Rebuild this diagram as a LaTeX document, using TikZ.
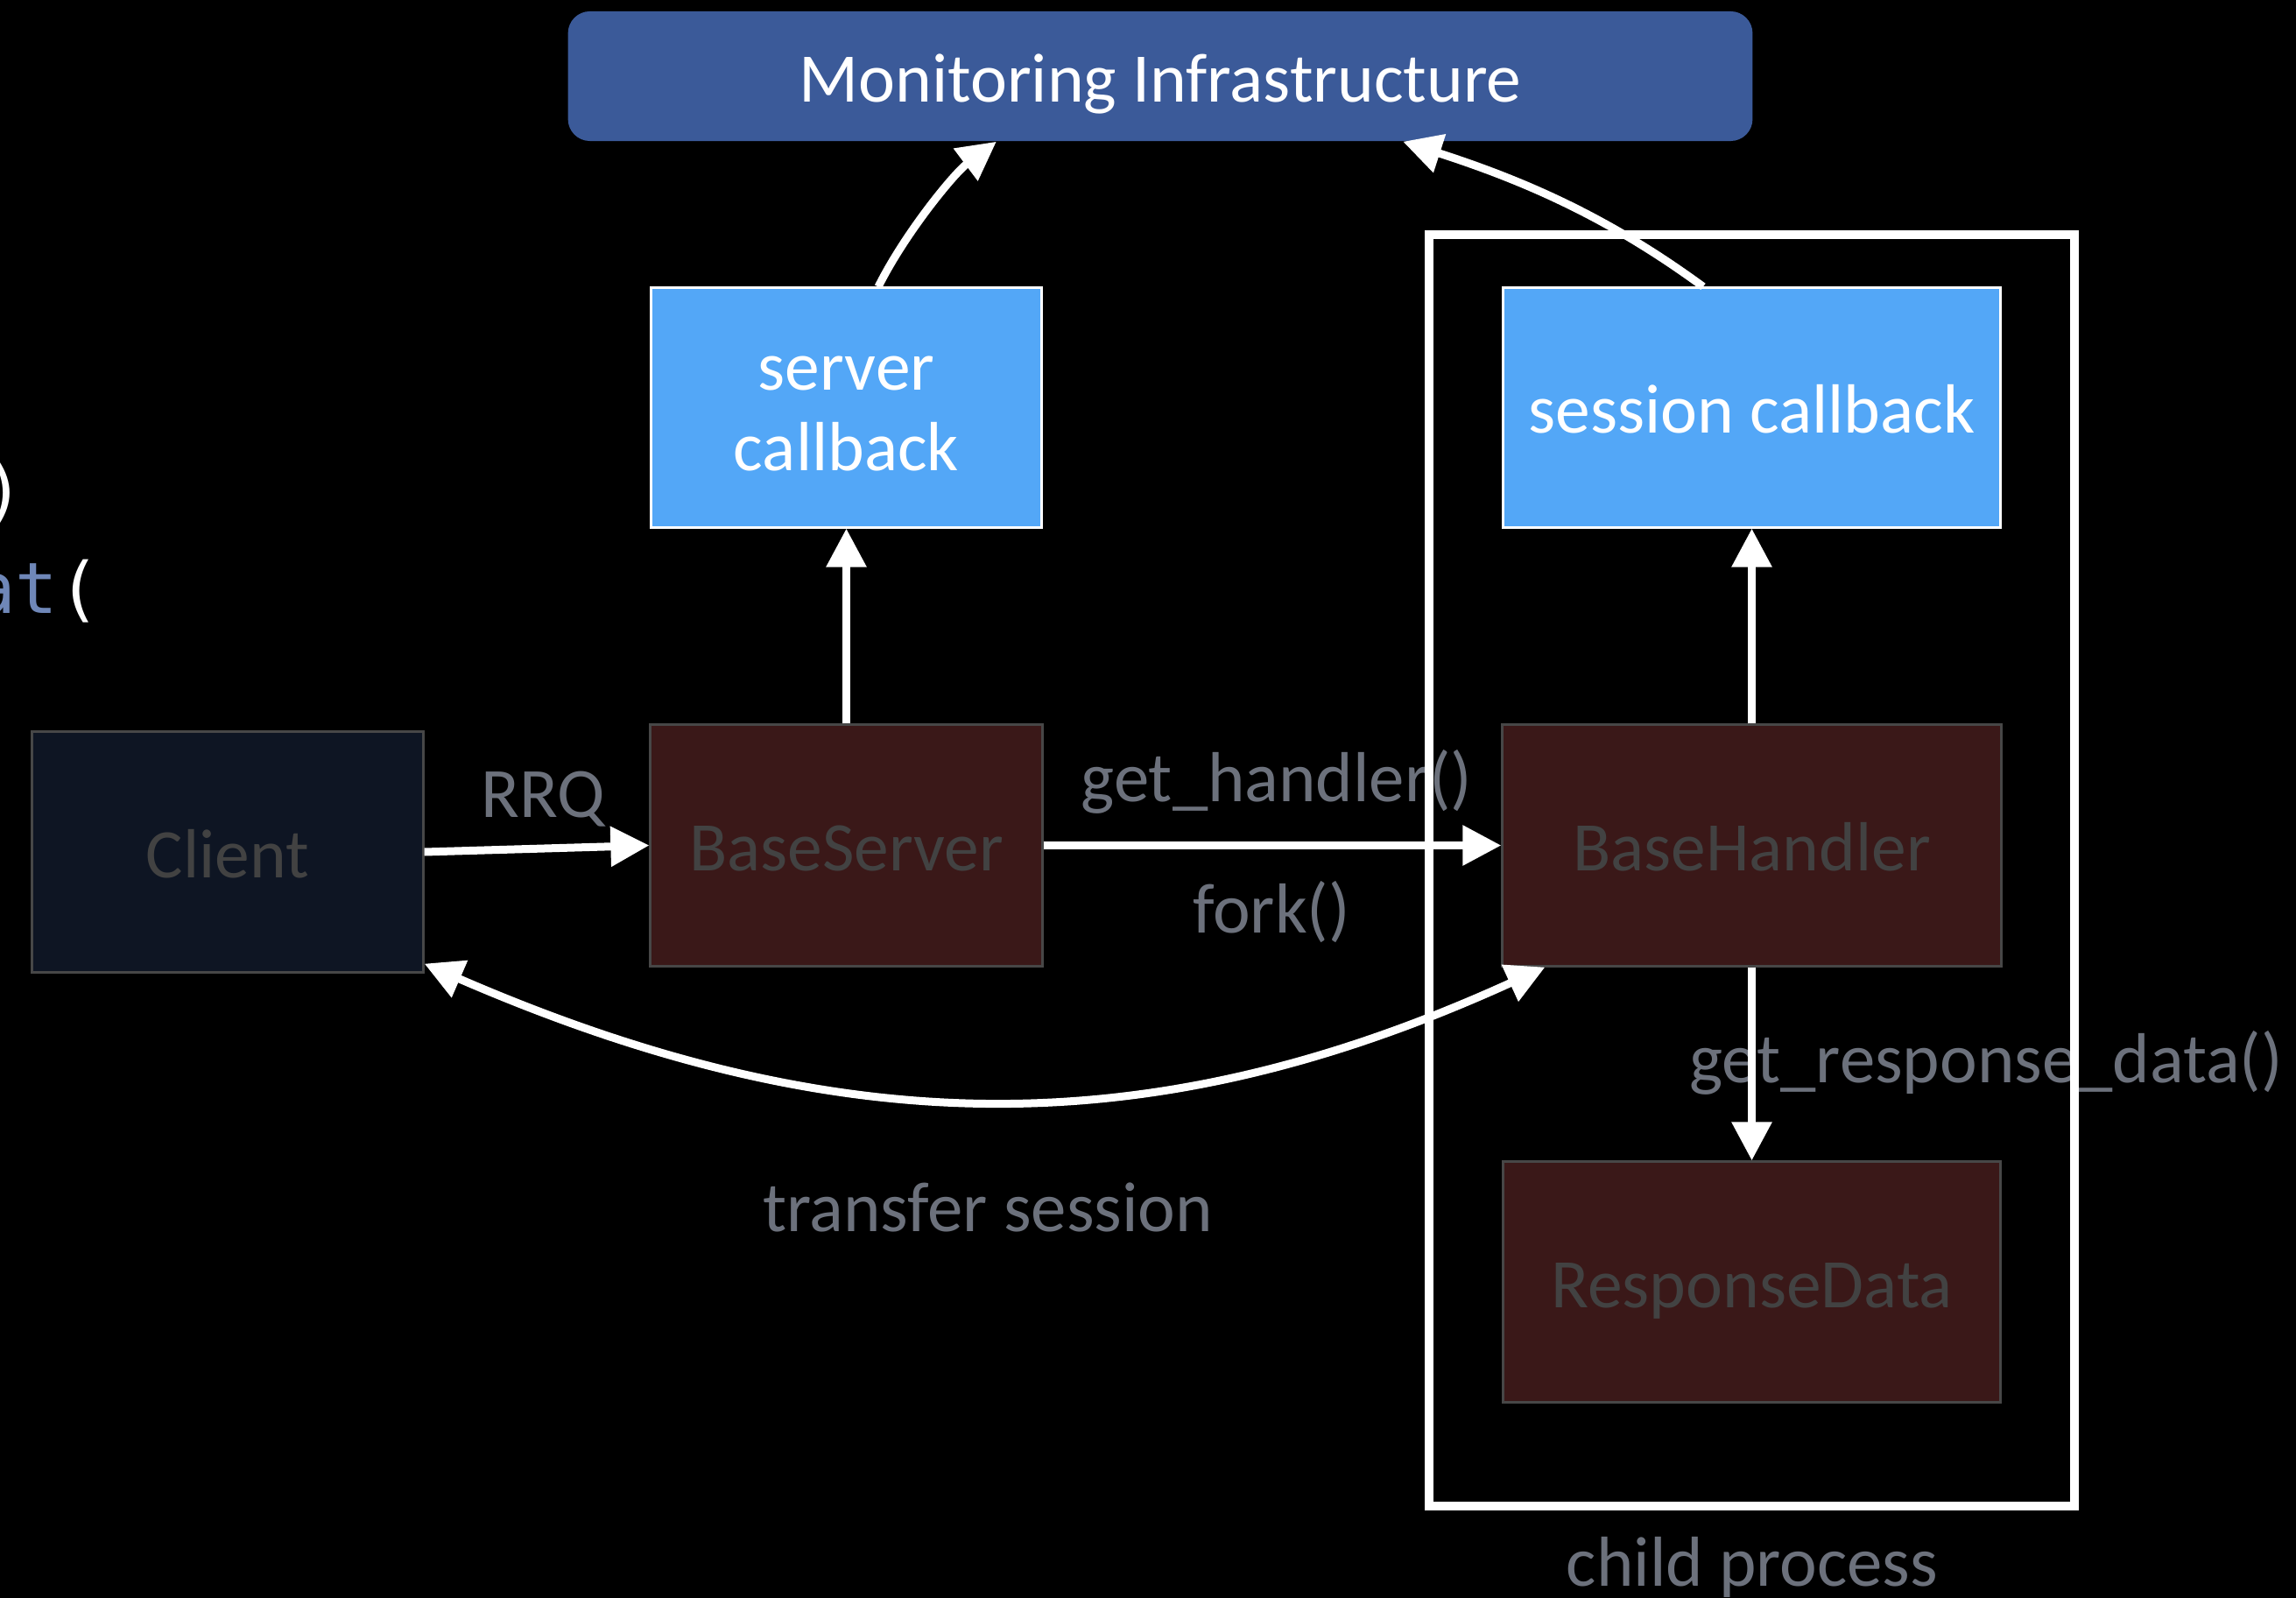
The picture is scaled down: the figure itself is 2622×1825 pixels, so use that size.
\documentclass[tikz,border=0pt]{standalone}
\usepackage{fontspec}
\setmainfont{Carlito}
\newfontfamily\codefont{DejaVu Sans Mono}
\usetikzlibrary{arrows.meta}

\definecolor{monblue}{HTML}{3B5A99}
\definecolor{cbblue}{HTML}{53A7F7}
\definecolor{darkred}{HTML}{3A1818}
\definecolor{navy}{HTML}{0E1523}
\definecolor{boxline}{HTML}{474747}
\definecolor{labelgray}{HTML}{6C717C}
\definecolor{boxtext}{HTML}{424242}
\definecolor{codeblue}{HTML}{6F87B8}

\tikzset{
  box/.style={rectangle, inner sep=0pt, align=center,
    text height=16.5pt, text depth=0pt,
    font=\fontsize{22.6pt}{26.2pt}\selectfont},
  darkbox/.style={box, fill=darkred, draw=boxline, line width=0.03cm, text=boxtext},
  clientbox/.style={box, fill=navy, draw=boxline, line width=0.03cm, text=boxtext},
  cbbox/.style={box, fill=cbblue, draw=white, line width=0.03cm, text=white},
  lbl/.style={anchor=base, inner sep=0pt, text=labelgray,
    font=\fontsize{23pt}{27pt}\selectfont},
  codetxt/.style={anchor=base west, inner sep=0pt,
    font=\codefont\fontsize{23pt}{27pt}\selectfont},
  conn/.style={draw=white, line width=0.09cm,
    -{Triangle[length=0.44cm,width=0.44cm]}},
  bothconn/.style={draw=white, line width=0.09cm,
    {Triangle[length=0.44cm,width=0.44cm]}-{Triangle[length=0.44cm,width=0.44cm]}},
}

\begin{document}
\begin{tikzpicture}[x=0.01cm, y=-0.01cm]
  % canvas
  \fill[black] (0,0) rectangle (2622,1825);
  \useasboundingbox (0,0) rectangle (2622,1825);

  % code fragments at the left edge
  \node[codetxt, anchor=base east, text=white] (paren) at (29,589) {)};
  \node[codetxt] (code) at (-31.5,700) {\textcolor{codeblue}{at}\textcolor{white}{(}};

  % connector labels
  \node[lbl] (lrrq) at (620,933) {RRQ};
  \node[lbl] (lgeth) at (1458,915) {get\_handler()};
  \node[lbl] (lfork) at (1452,1065) {fork()};
  \node[lbl] (lgetr) at (2268,1236) {get\_response\_data()};
  \node[lbl] (ltrans) at (1128,1406) {transfer session};
  \node[lbl] (lchild) at (2001,1811) {child process};

  % boxes
  \node[box, fill=monblue, rounded corners=0.25cm, text=white,
        minimum width=13.52cm, minimum height=1.48cm] (mon) at (1325,87)
        {Monitoring Infrastructure};
  \node[cbbox, text height=41.2pt, minimum width=4.45cm, minimum height=2.73cm]
        (srvcb) at (966.5,465.5) {server\\callback};
  \node[cbbox, minimum width=5.67cm, minimum height=2.73cm] (sescb) at (2000.5,465.5)
        {session callback};
  \node[clientbox, minimum width=4.46cm, minimum height=2.74cm] (client) at (260,973)
        {Client};
  \node[darkbox, minimum width=4.47cm, minimum height=2.75cm] (bsrv) at (966.5,965.5)
        {BaseServer};
  \node[darkbox, minimum width=5.69cm, minimum height=2.75cm] (bhnd) at (2000.5,965.5)
        {BaseHandler};
  \node[darkbox, minimum width=5.68cm, minimum height=2.74cm] (resp) at (2000.5,1464)
        {ResponseData};

  % child process frame
  \node[draw=white, line width=0.1cm, inner sep=0pt,
        minimum width=7.37cm, minimum height=14.52cm] (child) at (2000.5,994) {};

  % connectors
  \draw[conn] (client.east) -- (bsrv.west);
  \draw[conn] (bsrv.north) -- (srvcb.south);
  \draw[conn] (bsrv.east) -- (bhnd.west);
  \draw[conn] (bhnd.north) -- (sescb.south);
  \draw[conn] (bhnd.south) -- (resp.north);
  \draw[conn] ([xshift=0.365cm]srvcb.north)
        .. controls +(31,-62) and +(-48,36) .. ([xshift=-1.87cm]mon.south);
  \draw[conn] ([xshift=-0.555cm]sescb.north)
        .. controls +(-105,-77) and +(143,46) .. ([xshift=2.77cm]mon.south);
  \draw[bothconn] ([yshift=0.11cm]client.south east)
        .. controls +(477,207) and +(-446,203) .. ([xshift=0.5cm]bhnd.south west);
\end{tikzpicture}
\end{document}
